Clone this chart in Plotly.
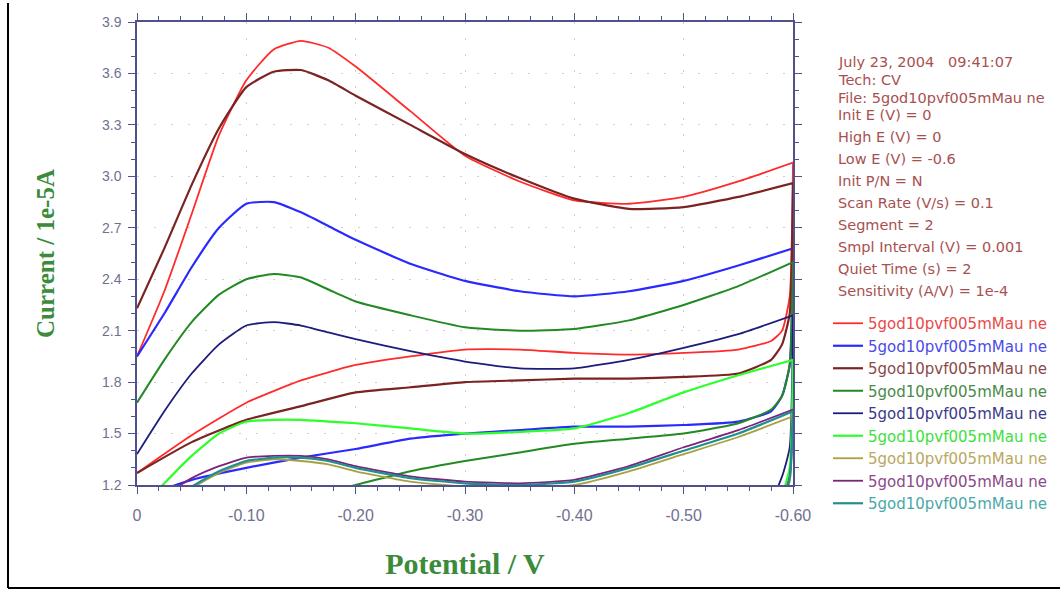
import plotly.graph_objects as go

# ---------------- data ----------------
X_FWD = [0, -0.025, -0.05, -0.075, -0.1, -0.125, -0.15, -0.175, -0.2,
         -0.25, -0.3, -0.35, -0.4, -0.45, -0.5, -0.55, -0.6]
X_REV = [-0.6, -0.597, -0.59, -0.58, -0.55, -0.5, -0.45, -0.4, -0.35,
         -0.3, -0.25, -0.2, -0.15, -0.1, -0.05, 0]

red_fwd = [1.95, 2.33, 2.78, 3.24, 3.56, 3.74, 3.79, 3.75, 3.64, 3.38, 3.12, 2.97, 2.86, 2.84, 2.88, 2.97, 3.08]
red_rev = [3.08, 2.30, 2.10, 2.04, 1.99, 1.97, 1.96, 1.97, 1.99, 1.99, 1.95, 1.90, 1.81, 1.68, 1.49, 1.27]

blue_fwd = [1.95, 2.20, 2.47, 2.70, 2.84, 2.85, 2.79, 2.71, 2.63, 2.49, 2.39, 2.33, 2.30, 2.33, 2.39, 2.48, 2.58]
blue_rev = [2.58, 1.90, 1.72, 1.63, 1.57, 1.55, 1.54, 1.54, 1.52, 1.50, 1.47, 1.41, 1.36, 1.30, 1.23, 1.12]

brown_fwd = [2.23, 2.58, 2.95, 3.28, 3.52, 3.61, 3.62, 3.56, 3.47, 3.30, 3.13, 2.99, 2.87, 2.81, 2.82, 2.88, 2.96]
brown_rev = [2.96, 2.20, 2.02, 1.93, 1.85, 1.83, 1.82, 1.82, 1.81, 1.80, 1.77, 1.74, 1.66, 1.58, 1.45, 1.27]

green_fwd = [1.68, 1.93, 2.15, 2.31, 2.40, 2.43, 2.41, 2.34, 2.27, 2.19, 2.12, 2.10, 2.11, 2.16, 2.25, 2.36, 2.50]
green_rev = [2.50, 1.90, 1.72, 1.64, 1.56, 1.50, 1.47, 1.44, 1.39, 1.34, 1.28, 1.20, 1.12, 1.05, 0.99, 0.93]

navy_fwd = [1.38, 1.63, 1.85, 2.02, 2.13, 2.15, 2.13, 2.09, 2.05, 1.98, 1.92, 1.88, 1.88, 1.93, 2.00, 2.08, 2.19]
navy_rev = [2.19, 1.42, 1.25, 1.12, 1.06, 1.04, 1.03, 1.02, 1.01, 1.00, 0.99, 0.98, 0.97, 0.96, 0.95, 0.94]

lime_fwd = [1.04, 1.21, 1.37, 1.50, 1.57, 1.58, 1.58, 1.57, 1.56, 1.53, 1.50, 1.51, 1.53, 1.62, 1.74, 1.84, 1.93]
lime_rev = [1.93, 1.30, 1.15, 1.09, 1.05, 1.03, 1.02, 1.01, 1.00, 0.99, 0.98, 0.97, 0.96, 0.95, 0.94, 0.93]

olive_fwd = [1.00, 1.08, 1.18, 1.27, 1.33, 1.35, 1.34, 1.32, 1.28, 1.22, 1.19, 1.18, 1.20, 1.28, 1.38, 1.48, 1.60]
olive_rev = [1.60, 1.22, 1.10, 1.05, 1.02, 1.00, 0.99, 0.98, 0.97, 0.96, 0.95, 0.94, 0.93, 0.92, 0.91, 0.90]

purple_fwd = [1.05, 1.14, 1.24, 1.31, 1.36, 1.37, 1.37, 1.35, 1.31, 1.25, 1.22, 1.21, 1.23, 1.31, 1.42, 1.52, 1.64]
purple_rev = [1.64, 1.25, 1.12, 1.06, 1.03, 1.01, 1.00, 0.99, 0.98, 0.97, 0.96, 0.95, 0.94, 0.93, 0.92, 0.91]

teal_fwd = [1.00, 1.09, 1.19, 1.28, 1.34, 1.36, 1.36, 1.34, 1.30, 1.24, 1.21, 1.20, 1.22, 1.30, 1.40, 1.50, 1.63]
teal_rev = [1.63, 1.24, 1.11, 1.05, 1.02, 1.00, 0.99, 0.98, 0.97, 0.96, 0.95, 0.94, 0.93, 0.92, 0.91, 0.90]

SERIES_NAME = "5god10pvf005mMau ne"
series_fwd = [red_fwd, blue_fwd, brown_fwd, green_fwd, navy_fwd, lime_fwd, olive_fwd, purple_fwd, teal_fwd]
series_rev = [red_rev, blue_rev, brown_rev, green_rev, navy_rev, lime_rev, olive_rev, purple_rev, teal_rev]
line_colors = ["#ff2a2a", "#2a2aff", "#7b2323", "#238a23", "#1c1c7c",
               "#2cff2c", "#a8a040", "#7c237c", "#1f8f8f"]
line_widths = [1.8, 2.2, 2.2, 2.0, 1.8, 2.2, 1.8, 1.8, 2.2]
text_colors = ["#e84a4a", "#4a4ae8", "#8a4a4a", "#4a8a4a", "#3a3a8a",
               "#3ee03e", "#b8a860", "#8a4a8a", "#4aa8a8"]

Y_TICKS = [1.2, 1.5, 1.8, 2.1, 2.4, 2.7, 3.0, 3.3, 3.6, 3.9]
Y_TICKTEXT = ["1.2", "1.5", "1.8", "2.1", "2.4", "2.7", "3.0", "3.3", "3.6", "3.9"]
X_TICKS = [0, -0.1, -0.2, -0.3, -0.4, -0.5, -0.6]
X_TICKTEXT = ["0", "-0.10", "-0.20", "-0.30", "-0.40", "-0.50", "-0.60"]

INFO_LINES_1 = ["July 23, 2004   09:41:07", "Tech: CV", "File: 5god10pvf005mMau ne"]
INFO_LINES_2 = ["Init E (V) = 0", "High E (V) = 0", "Low E (V) = -0.6", "Init P/N = N",
                "Scan Rate (V/s) = 0.1", "Segment = 2", "Smpl Interval (V) = 0.001",
                "Quiet Time (s) = 2", "Sensitivity (A/V) = 1e-4"]

# ---------------- layout geometry ----------------
W, H = 1060, 590
ML, MR, MT, MB = 137, 267, 22, 105
PW, PH = W - ML - MR, H - MT - MB


def px_x(px):
    return (px - ML) / PW


def px_y(py):
    return (H - MB - py) / PH


fig = go.Figure()
for fwd, rev, lc, lw, tc in zip(series_fwd, series_rev, line_colors, line_widths, text_colors):
    fig.add_trace(go.Scatter(
        x=X_FWD + X_REV, y=fwd + rev, mode="lines",
        line=dict(color=lc, width=lw, shape="spline", smoothing=0.5),
        name=f'<span style="color:{tc}">{SERIES_NAME}</span>',
        hoverinfo="skip",
    ))

axis_col = "#50508c"
tick_font_col = "#707090"
grid_col = "#cfcfcf"

fig.update_xaxes(
    range=[0, -0.6], tickmode="array", tickvals=X_TICKS, ticktext=X_TICKTEXT,
    ticks="outside", ticklen=7, tickcolor=axis_col, tickwidth=1,
    showline=True, linecolor=axis_col, linewidth=1.5, mirror="allticks",
    showgrid=True, gridcolor=grid_col, griddash="2px,14px", gridwidth=1,
    zeroline=False,
    minor=dict(tickmode="linear", tick0=0, dtick=0.02, ticks="outside", ticklen=4,
               tickcolor=axis_col, showgrid=False),
    tickfont=dict(family="Liberation Sans, Arial, sans-serif", size=16, color=tick_font_col),
    ticklabelstandoff=8,
    title=dict(text="Potential / V", standoff=30,
               font=dict(family="Liberation Serif, Times New Roman, serif", size=30,
                         color="#3b8b3b", weight="bold")),
)
fig.update_yaxes(
    range=[1.2, 3.9], tickmode="array", tickvals=Y_TICKS, ticktext=Y_TICKTEXT,
    ticks="outside", ticklen=7, tickcolor=axis_col, tickwidth=1,
    showline=True, linecolor=axis_col, linewidth=1.5, mirror="allticks",
    showgrid=True, gridcolor=grid_col, griddash="2px,15px", gridwidth=1,
    zeroline=False,
    minor=dict(tickmode="linear", tick0=1.2, dtick=0.1, ticks="outside", ticklen=4,
               tickcolor=axis_col, showgrid=False),
    tickfont=dict(family="Liberation Sans, Arial, sans-serif", size=14, color=tick_font_col),
    ticklabelstandoff=4,
    title=dict(text="Current / 1e-5A", standoff=40,
               font=dict(family="Liberation Serif, Times New Roman, serif", size=25,
                         color="#3b8b3b", weight="bold")),
)

annotations = []
info_font = dict(family="DejaVu Sans, Verdana, sans-serif", size=14.5, color="#a85050")
for i, t in enumerate(INFO_LINES_1):
    annotations.append(dict(text=t, xref="paper", yref="paper", x=px_x(836), y=px_y(62 + 18 * i),
                            xanchor="left", yanchor="middle", showarrow=False, font=info_font))
for i, t in enumerate(INFO_LINES_2):
    annotations.append(dict(text=t, xref="paper", yref="paper", x=px_x(836), y=px_y(115 + 22 * i),
                            xanchor="left", yanchor="middle", showarrow=False, font=info_font))

shapes = [
    dict(type="line", xref="paper", yref="paper", x0=px_x(8), x1=px_x(8), y0=px_y(3), y1=px_y(588),
         line=dict(color="black", width=2)),
    dict(type="line", xref="paper", yref="paper", x0=px_x(8), x1=px_x(1062), y0=px_y(588), y1=px_y(588),
         line=dict(color="black", width=2)),
]

fig.update_layout(
    width=W, height=H,
    margin=dict(l=ML, r=MR, t=MT, b=MB, autoexpand=False),
    paper_bgcolor="white", plot_bgcolor="white",
    showlegend=True,
    legend=dict(x=px_x(828), y=px_y(307), xanchor="left", yanchor="top",
                bgcolor="rgba(0,0,0,0)", borderwidth=0, itemwidth=30,
                font=dict(family="DejaVu Sans, Verdana, sans-serif", size=15),
                tracegroupgap=0),
    annotations=annotations, shapes=shapes,
)

fig.write_html("out.html")
